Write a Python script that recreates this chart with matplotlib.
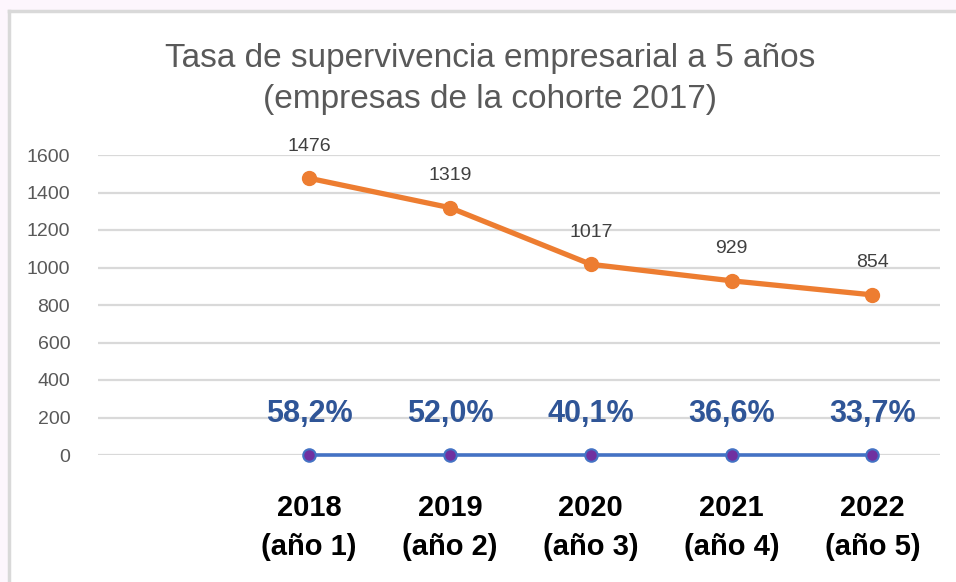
import matplotlib.pyplot as plt
from matplotlib.patches import Rectangle
from matplotlib.lines import Line2D

# Datos
anios = ["2018\n(año 1)", "2019\n(año 2)", "2020\n(año 3)", "2021\n(año 4)", "2022\n(año 5)"]
empresas = [1476, 1319, 1017, 929, 854]
tasa = ["58,2%", "52,0%", "40,1%", "36,6%", "33,7%"]
base = [0, 0, 0, 0, 0]

W, H = 956, 582
fig = plt.figure(figsize=(W / 100, H / 100), dpi=100)
fig.patch.set_facecolor("#fdf6fd")

# marco blanco del gráfico (solo bordes superior e izquierdo visibles)
fig.patches.append(Rectangle((9 / W, 0), 1, (H - 11) / H, transform=fig.transFigure,
                             facecolor="white", edgecolor="none", zorder=-5))
fig.lines.append(Line2D([9 / W, 1], [(H - 11) / H] * 2, transform=fig.transFigure,
                        color="#d9d9d9", linewidth=2.5, zorder=-4))
fig.lines.append(Line2D([9 / W] * 2, [0, (H - 11) / H], transform=fig.transFigure,
                        color="#d9d9d9", linewidth=2.5, zorder=-4))

ax = fig.add_axes([98 / W, (H - 455) / H, (940 - 98) / W, 300 / H])
ax.set_facecolor("none")
ax.set_zorder(2)
x = list(range(len(anios)))

ax.plot(x, empresas, color="#ED7D31", linewidth=3.8, marker="o", markersize=10,
        clip_on=False, zorder=3)
ax.plot(x, base, color="#4472C4", linewidth=2.6, marker="o", markersize=9,
        markerfacecolor="#7030A0", markeredgecolor="#4472C4", markeredgewidth=1.5,
        clip_on=False, zorder=3)

for xi, v in zip(x, empresas):
    ax.annotate(str(v), (xi, v), xytext=(0, 32), textcoords="offset pixels",
                ha="center", va="center", fontsize=14, color="#404040",
                family="Liberation Sans")
for xi, t in zip(x, tasa):
    ax.annotate(t, (xi, 0), xytext=(0, 41), textcoords="offset pixels",
                ha="center", va="center", fontsize=22, fontweight="bold",
                color="#2F5597", family="Liberation Sans")

ax.set_xlim(-1.5, 4.48)
ax.set_ylim(0, 1600)
ax.set_yticks(range(0, 1601, 200))
ax.set_xticks(x)
ax.set_xticklabels(anios, fontsize=21, fontweight="bold", color="black",
                   family="Liberation Sans", linespacing=1.5)
ax.tick_params(axis="x", length=0, pad=28)
ax.tick_params(axis="y", length=0, pad=20, labelsize=14, labelcolor="#595959")
for lab in ax.get_yticklabels():
    lab.set_family("Liberation Sans")
ax.grid(axis="y", color="#d9d9d9", linewidth=1.6)
ax.set_axisbelow(True)
for s in ax.spines.values():
    s.set_visible(False)

fig.text(490 / W, 1 - 79 / H, "Tasa de supervivencia empresarial a 5 años\n(empresas de la cohorte 2017)",
         ha="center", va="center", fontsize=24, color="#595959", family="Liberation Sans",
         linespacing=1.4)

fig.savefig("out.png", dpi=100, facecolor=fig.get_facecolor())
